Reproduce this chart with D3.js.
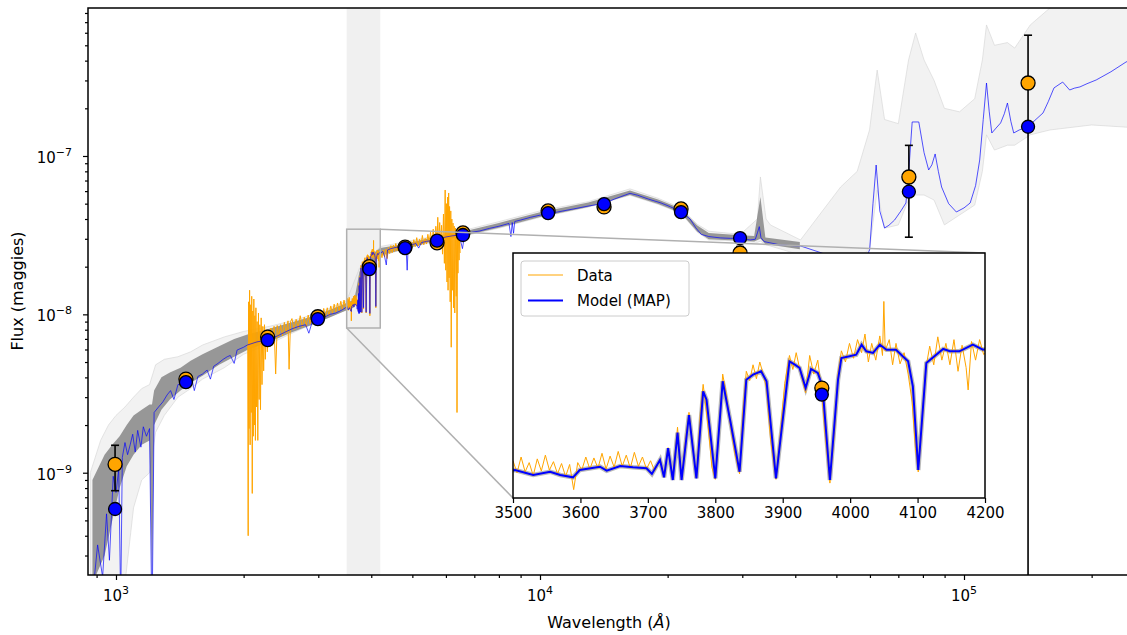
<!DOCTYPE html>
<html>
<head>
<meta charset="utf-8">
<script src="https://cdn.jsdelivr.net/npm/d3@7"></script>
<style>
  body { margin: 0; background: #fff; }
  svg { display: block; font-family: "DejaVu Sans", sans-serif; }
</style>
</head>
<body>
<svg id="chart" width="1127" height="635"></svg>
<script>
// fluxes below are in nanomaggies (1e-9 maggies)
const NMGY = 1e-9;

const xMajor = [1e3, 1e4, 1e5];
const yMajor = [1e-9, 1e-8, 1e-7];
const insetTicks = [3500, 3600, 3700, 3800, 3900, 4000, 4100, 4200];

// photometry: wavelength (A), observed, 1-sigma error, model (MAP)
const photWave  = [995, 1462, 2279, 2993, 3958, 4806, 5718, 6581, 10450, 14160, 21510, 29640, 74130, 141600];
const photObs   = [1.13, 3.9, 7.19, 9.66, 20.0, 26.6, 28.3, 32.7, 45.0, 47.7, 46.3, 24.4, 73.7, 289];
const photErr   = [0.36, 0.12, 0.2, 0.25, 0.5, 0.6, 0.7, 0.8, 1.0, 1.1, 1.1, 2.4, 43, 290];
const photModel = [0.59, 3.73, 6.88, 9.33, 19.3, 26.2, 29.2, 31.7, 43.6, 49.7, 44.2, 30.3, 59.5, 153];

// MAP model spectrum [wavelength, flux]
const mapSpec = [
  [870, 0.12], [905, 0.35], [930, 0.22], [950, 0.55], [965, 0.28], [985, 0.95], [1000, 0.75], [1015, 1.05],
  [1026, 0.15], [1035, 1.25], [1050, 1.55], [1065, 1.3], [1080, 1.5], [1095, 1.75], [1110, 1.35], [1125, 1.85],
  [1145, 1.45], [1160, 1.95], [1180, 1.7], [1200, 1.9], [1216, 0.1], [1230, 2.4], [1260, 2.6], [1290, 2.8],
  [1320, 3.1], [1345, 3.3], [1370, 2.9], [1400, 3.6], [1430, 3.65], [1470, 3.7], [1510, 3.9], [1530, 3.3],
  [1560, 4.05], [1600, 4.2], [1640, 4.45], [1670, 3.9], [1700, 4.7], [1740, 4.9], [1790, 5.2], [1830, 5.4],
  [1860, 5.5], [1900, 4.9], [1930, 5.95], [2000, 6.2], [2040, 6.4], [2150, 6.7], [2284, 6.9], [2400, 7.3],
  [2500, 7.7], [2600, 8.1], [2700, 8.4], [2800, 8.6], [2850, 7.6], [2900, 8.9], [3000, 9.3], [3100, 9.6],
  [3200, 10.0], [3300, 10.2], [3400, 10.6], [3480, 11.0],
  [3503, 11.21], [3530, 10.67], [3555, 11.02], [3570, 10.67], [3589, 10.42], [3599, 11.21], [3629, 11.56],
  [3639, 11.13], [3659, 11.64], [3678, 11.5], [3698, 11.39], [3706, 10.78], [3718, 12.28], [3724, 10.42],
  [3730, 13.54], [3737, 10.13], [3744, 15.21], [3750, 10.13], [3761, 17.11], [3772, 10.31], [3782, 19.65],
  [3787, 18.75], [3800, 10.31], [3811, 20.73], [3822, 16.57], [3836, 11.02], [3846, 20.9], [3856, 21.44],
  [3868, 21.8], [3876, 20.73], [3890, 10.31], [3910, 22.87], [3918, 22.51], [3925, 22.16], [3934, 20.01],
  [3942, 22.05], [3952, 21.62], [3959, 20.19], [3970, 10.13], [3982, 20.87], [3987, 23.23], [3999, 23.41],
  [4009, 23.58], [4017, 24.66], [4024, 23.95], [4034, 23.77], [4044, 24.66], [4054, 24.12], [4068, 24.12],
  [4078, 23.41], [4086, 22.87], [4093, 20.19], [4101, 11.21], [4113, 22.69], [4138, 24.2], [4148, 23.95],
  [4162, 23.95], [4182, 24.66], [4197, 24.12],
  [4210, 24.3], [4260, 25.0], [4300, 23.2], [4340, 20.5], [4370, 25.5], [4450, 26.0], [4550, 26.4],
  [4700, 26.8], [4830, 27.0], [4861, 19.0], [4890, 27.3], [5000, 27.6], [5100, 28.0], [5175, 26.2],
  [5250, 28.4], [5400, 28.9], [5600, 29.3], [5800, 30.0], [6000, 30.8], [6200, 31.3], [6450, 31.7],
  [6563, 26.0], [6650, 32.3], [6900, 33.0], [7200, 33.6], [7600, 34.9], [8000, 36.0], [8450, 37.5],
  [8540, 31.0], [8600, 38.0], [8662, 32.5], [8720, 38.6], [9000, 39.4], [9500, 41.0], [10000, 42.3],
  [11000, 44.3], [12000, 46.3], [13000, 48.3], [14200, 50.3], [15000, 53.5], [15500, 55.3], [16300, 58.1],
  [17000, 56.5], [18000, 53.5], [19300, 50.5], [20300, 47.8], [21500, 44.5], [22600, 40.0], [23300, 35.2],
  [24000, 32.0], [25000, 31.0], [26600, 30.4], [28100, 30.2], [29700, 30.2], [31300, 29.5], [32200, 29.8],
  [32600, 33.0], [32900, 35.8], [33200, 30.5], [33800, 28.8], [36900, 27.4], [41200, 27.0], [46000, 24.5],
  [52000, 21.5], [56000, 21.0], [58500, 22.5], [59900, 25.5], [61000, 50.0], [62060, 87.7], [63300, 45.0],
  [64960, 35.1], [66500, 36.5], [68590, 39.4], [71000, 45.0], [72960, 50.5], [74200, 85.0], [75470, 164],
  [78230, 164], [80500, 105], [82540, 81.6], [84000, 88], [85500, 103], [87000, 80], [88550, 63.7],
  [92000, 50.0], [95930, 44.3], [100000, 47.0], [103400, 50.5], [106500, 65.0], [108900, 94.3], [111000, 170],
  [113000, 289], [114700, 190], [116300, 139.7], [119000, 150], [122000, 161.6], [124500, 185], [126600, 216],
  [129000, 165], [131000, 139.7], [135000, 146], [141200, 152.5], [147000, 168], [153600, 187], [158000, 220],
  [163000, 269], [170900, 293], [177500, 261], [182000, 268], [187700, 273], [195000, 286], [205000, 302],
  [222000, 340], [241000, 392], [262000, 434]
];

// observed spectrum [wavelength, flux]
const dataSpec = [
  [2045, 6.5], [2050, 0.40], [2055, 12.0], [2060, 1.9], [2066, 14.2], [2072, 1.5], [2078, 11.5], [2084, 2.4],
  [2090, 13.0], [2096, 0.74], [2102, 10.5], [2108, 1.7], [2114, 12.5], [2120, 2.0], [2126, 9.8], [2132, 1.6],
  [2138, 11.0], [2145, 2.6], [2152, 9.0], [2160, 1.6], [2168, 10.2], [2176, 2.9], [2184, 8.6], [2192, 2.5],
  [2200, 9.5], [2210, 3.6], [2220, 8.4], [2230, 4.4], [2240, 8.6], [2250, 5.2], [2262, 8.0], [2275, 5.8],
  [2290, 7.9], [2305, 6.4], [2320, 8.2], [2340, 6.9], [2360, 8.4], [2380, 4.2], [2400, 8.5], [2420, 7.2],
  [2445, 8.6], [2470, 7.3], [2495, 8.9], [2520, 7.6], [2545, 9.1], [2560, 4.5], [2580, 9.0], [2600, 9.4],
  [2630, 8.0], [2660, 9.3], [2690, 8.2], [2720, 9.8], [2750, 8.3], [2780, 9.6], [2810, 8.4], [2840, 9.9],
  [2870, 8.7], [2900, 10.1], [2930, 8.9], [2960, 10.2], [3000, 9.1], [3030, 10.6], [3060, 9.4], [3090, 10.9],
  [3120, 9.6], [3150, 11.0], [3180, 9.8], [3210, 11.3], [3240, 10.1], [3270, 11.6], [3300, 10.3], [3330, 11.8],
  [3360, 10.5], [3390, 12.1], [3420, 10.7], [3450, 12.3], [3480, 10.9],
  [3500, 12.2], [3506, 10.9], [3512, 12.6], [3518, 11.0], [3524, 12.0], [3530, 10.6], [3536, 12.4], [3542, 11.1],
  [3548, 12.8], [3554, 11.2], [3560, 12.1], [3566, 10.8], [3572, 11.9], [3578, 10.5], [3584, 11.8], [3590, 9.1],
  [3596, 12.0], [3602, 11.2], [3608, 12.6], [3614, 11.3], [3620, 12.5], [3626, 11.4], [3632, 13.0], [3638, 11.3],
  [3644, 12.7], [3650, 11.5], [3656, 13.2], [3662, 11.6], [3668, 12.8], [3674, 11.4], [3680, 13.1], [3686, 11.6],
  [3692, 12.6], [3698, 11.3], [3704, 12.2], [3710, 11.1], [3718, 12.4], [3724, 10.6], [3730, 13.6], [3737, 10.4],
  [3744, 15.8], [3750, 10.3], [3756, 14.5], [3761, 17.4], [3767, 13.5], [3772, 10.4], [3778, 17.5], [3782, 20.4],
  [3786, 18.0], [3790, 15.5], [3795, 11.5], [3800, 10.2], [3806, 16.0], [3811, 21.5], [3816, 19.5], [3822, 16.2],
  [3829, 13.0], [3836, 10.8], [3841, 17.5], [3846, 21.8], [3851, 20.8], [3856, 22.5], [3861, 21.0], [3866, 22.8],
  [3871, 21.5], [3876, 20.0], [3882, 14.5], [3890, 10.2], [3897, 15.5], [3903, 20.5], [3910, 23.5], [3915, 22.0],
  [3920, 23.8], [3926, 21.8], [3934, 19.5], [3940, 23.5], [3946, 21.5], [3952, 23.0], [3958, 19.5], [3963, 15.0],
  [3970, 9.8], [3977, 15.5], [3982, 21.5], [3987, 24.0], [3993, 22.8], [3999, 24.8], [4005, 23.2], [4011, 25.2],
  [4017, 23.8], [4022, 25.8], [4027, 22.8], [4032, 24.8], [4038, 23.0], [4044, 25.6], [4048, 23.5], [4050, 29.3],
  [4052, 24.0], [4058, 25.2], [4063, 22.5], [4068, 24.8], [4074, 22.6], [4080, 23.8], [4086, 21.5], [4092, 18.5],
  [4097, 13.5], [4101, 11.0], [4106, 15.5], [4112, 22.0], [4118, 24.5], [4124, 22.5], [4130, 25.5], [4136, 23.0],
  [4142, 24.8], [4148, 22.5], [4154, 25.2], [4160, 21.8], [4166, 24.6], [4172, 22.2], [4175, 19.8], [4180, 25.0],
  [4186, 23.0], [4192, 25.2], [4198, 23.6],
  [4210, 24.4], [4240, 22.8], [4270, 25.5], [4300, 23.0], [4330, 25.8], [4360, 22.5], [4390, 26.4], [4420, 24.2],
  [4450, 27.2], [4480, 24.5], [4510, 27.4], [4540, 25.0], [4570, 28.0], [4600, 25.2], [4640, 27.6], [4680, 25.0],
  [4720, 28.5], [4760, 25.6], [4800, 28.2], [4840, 25.8], [4880, 29.5], [4920, 26.0], [4960, 28.8], [5000, 26.5],
  [5040, 29.6], [5080, 26.8], [5120, 30.5], [5160, 27.0], [5200, 29.8], [5240, 27.4], [5280, 31.5], [5320, 27.5],
  [5360, 30.2], [5400, 27.8], [5440, 32.0], [5480, 28.5], [5520, 33.0], [5560, 28.0], [5600, 34.5], [5640, 27.5],
  [5680, 36.0], [5720, 29.0], [5740, 41.0], [5770, 26.0], [5800, 38.0], [5830, 27.0], [5860, 36.5], [5890, 24.0],
  [5920, 43.0], [5950, 21.0], [5975, 61.0], [5995, 19.0], [6015, 50.0], [6035, 16.0], [6055, 55.0], [6070, 14.2],
  [6090, 58.4], [6105, 17.0], [6120, 48.0], [6140, 12.0], [6160, 45.0], [6175, 6.2], [6195, 40.0], [6215, 14.2],
  [6235, 37.7], [6255, 11.0], [6275, 36.0], [6295, 10.2], [6320, 35.1], [6345, 13.0], [6365, 33.0], [6372, 2.4],
  [6385, 34.0], [6405, 18.2], [6425, 33.5], [6445, 22.0], [6465, 32.5], [6480, 24.4]
];

// posterior spread [wavelength, low, high]: dense core and full range of samples
const coreBand = [
  [880, 0.2, 0.9], [940, 0.3, 1.3], [980, 0.5, 1.5], [1020, 0.8, 1.7], [1060, 1.1, 2.0], [1100, 1.3, 2.3],
  [1150, 1.5, 2.5], [1200, 1.6, 2.7], [1216, 0.2, 2.7], [1230, 2.0, 3.3], [1280, 2.5, 4.0], [1340, 2.9, 4.3],
  [1420, 3.3, 4.6], [1500, 3.7, 5.1], [1600, 4.1, 5.6], [1750, 4.8, 6.3], [1900, 5.4, 7.0], [2050, 6.0, 7.5],
  [2300, 6.7, 8.1], [2600, 7.7, 8.9], [2900, 8.6, 9.7], [3200, 9.6, 10.7], [3500, 10.6, 11.8], [3650, 11.1, 12.4],
  [3750, 15.0, 18.5], [3900, 18.5, 22.5], [4200, 23.6, 26.2], [4800, 25.8, 27.8], [5500, 28.6, 30.4],
  [6500, 31.0, 33.0], [8000, 35.2, 37.8], [10000, 41.2, 44.2], [13000, 47.6, 50.8], [16300, 56.8, 60.5],
  [19000, 49.8, 53.2], [21500, 43.6, 46.4], [23500, 33.2, 36.4], [25000, 29.8, 32.6], [29700, 29.2, 31.6],
  [32000, 28.8, 31.2], [33100, 30, 55], [34000, 27.8, 30.6], [41000, 25.8, 28.6]
];
const wideBand = [
  [870, 0.1, 1.0], [920, 0.1, 1.6], [960, 0.1, 2.0], [1000, 0.1, 2.3], [1050, 0.2, 2.6], [1100, 0.6, 3.0],
  [1150, 0.9, 3.4], [1200, 1.0, 3.6], [1240, 1.8, 4.8], [1300, 2.3, 5.2], [1400, 3.0, 5.4], [1500, 3.4, 5.8],
  [1600, 3.9, 6.4], [1800, 4.6, 7.2], [2000, 5.6, 7.8], [2300, 6.5, 8.4], [2600, 7.6, 9.1], [3000, 9.0, 10.2],
  [3500, 10.7, 12.2], [3750, 15, 19.5], [4200, 23.3, 26.8], [5000, 26.8, 29.3], [6500, 31, 33.5],
  [8000, 35, 38.5], [10000, 41, 45], [13000, 47.5, 51.5], [16300, 56.5, 62], [19000, 49.5, 54],
  [21500, 43.5, 47], [23500, 33, 37], [25000, 29.5, 33.5], [29690, 29, 32], [32560, 28.5, 40], [33100, 29, 73.7],
  [34130, 27.5, 40], [34950, 27, 36.7], [41150, 23.7, 29.5], [51170, 22, 63.7], [56000, 23, 80],
  [59870, 25.5, 146], [62400, 61, 349], [64960, 35, 170], [70000, 36.7, 160], [74000, 52.7, 404],
  [76900, 56.7, 598], [80500, 56.7, 404], [85000, 52.7, 300], [89900, 36.7, 200], [97600, 42.4, 190],
  [106000, 49, 230], [110500, 80, 404], [113000, 136, 672], [118000, 109, 500], [126600, 117, 520],
  [131700, 117, 480], [143300, 136, 672], [159500, 146, 861], [200000, 157, 950], [262000, 150, 1100]
];

const svg = d3.select('#chart');
const M = { left: 88, top: 8, right: 1135, bottom: 575 };
const x = d3.scaleLog().domain([859, 253100]).range([M.left, M.right]);
const y = d3.scaleLog().domain([2.26e-10, 8.6e-7]).range([M.bottom, M.top]);

const I = { left: 513, top: 253, right: 985, bottom: 498 };
const ix = d3.scaleLinear().domain([3500, 4200]).range([I.left, I.right]);
const iy = d3.scaleLinear().domain([8.2e-9, 3.45e-8]).range([I.bottom, I.top]);

const defs = svg.append('defs');
defs.append('clipPath').attr('id', 'clip-main').append('rect')
  .attr('x', M.left).attr('y', M.top).attr('width', M.right - M.left).attr('height', M.bottom - M.top);
defs.append('clipPath').attr('id', 'clip-inset').append('rect')
  .attr('x', I.left).attr('y', I.top).attr('width', I.right - I.left).attr('height', I.bottom - I.top);

function drawPhot(g, sx, sy) {
  const pts = photWave.map((w, i) => ({ w, o: photObs[i] * NMGY, e: photErr[i] * NMGY, m: photModel[i] * NMGY }));
  const low = d => Math.max(d.o - d.e, 1e-12);
  g.selectAll('line.eb').data(pts).enter().append('line')
    .attr('x1', d => sx(d.w)).attr('x2', d => sx(d.w))
    .attr('y1', d => sy(d.o + d.e)).attr('y2', d => sy(low(d)))
    .attr('stroke', '#000').attr('stroke-width', 1.6);
  [d => d.o + d.e, low].forEach(f => {
    g.selectAll(null).data(pts).enter().append('line')
      .attr('x1', d => sx(d.w) - 4).attr('x2', d => sx(d.w) + 4)
      .attr('y1', d => sy(f(d))).attr('y2', d => sy(f(d)))
      .attr('stroke', '#000').attr('stroke-width', 1.6);
  });
  g.selectAll(null).data(pts).enter().append('circle')
    .attr('cx', d => sx(d.w)).attr('cy', d => sy(d.o)).attr('r', 7)
    .attr('fill', 'orange').attr('stroke', '#000').attr('stroke-width', 1.3);
  g.selectAll(null).data(pts).enter().append('circle')
    .attr('cx', d => sx(d.w)).attr('cy', d => sy(d.m)).attr('r', 6.5)
    .attr('fill', 'blue').attr('stroke', '#000').attr('stroke-width', 1.3);
}

// ---- main axes ----
const main = svg.append('g').attr('clip-path', 'url(#clip-main)');
main.append('rect')
  .attr('x', x(3500)).attr('width', x(4200) - x(3500))
  .attr('y', M.top).attr('height', M.bottom - M.top)
  .attr('fill', '#f0f0f0');

const band = (sx, sy) => d3.area().x(d => sx(d[0])).y0(d => sy(d[1] * NMGY)).y1(d => sy(d[2] * NMGY));
const spec = (sx, sy) => d3.line().x(d => sx(d[0])).y(d => sy(d[1] * NMGY));

main.append('path').datum(wideBand).attr('d', band(x, y))
  .attr('fill', '#e2e2e2').attr('fill-opacity', 0.45).attr('stroke', '#d4d4d4').attr('stroke-width', 0.6);
main.append('path').datum(coreBand).attr('d', band(x, y))
  .attr('fill', '#7f7f7f').attr('fill-opacity', 0.8);
main.append('path').datum(dataSpec).attr('d', spec(x, y))
  .attr('fill', 'none').attr('stroke', 'orange').attr('stroke-width', 1);
main.append('path').datum(mapSpec).attr('d', spec(x, y))
  .attr('fill', 'none').attr('stroke', 'blue').attr('stroke-width', 0.8).attr('stroke-opacity', 0.85);
drawPhot(main, x, y);

// ticks
const xMinor = [], yMinor = [];
[100, 1000, 10000, 100000].forEach(b => d3.range(2, 10).forEach(k => {
  const v = b * k;
  if (v > x.domain()[0] && v < x.domain()[1]) xMinor.push(v);
}));
[1e-10, 1e-9, 1e-8, 1e-7].forEach(b => d3.range(2, 10).forEach(k => {
  const v = b * k;
  if (v > y.domain()[0] && v < y.domain()[1]) yMinor.push(v);
}));

function tickGroup(axis, transform) {
  const g = svg.append('g').attr('transform', transform).call(axis);
  g.select('.domain').remove();
  g.selectAll('line').attr('stroke-width', 1.2);
  return g;
}
tickGroup(d3.axisBottom(x).tickValues(xMinor).tickSize(3).tickFormat(''), `translate(0,${M.bottom})`);
tickGroup(d3.axisBottom(x).tickValues(xMajor).tickSize(5).tickFormat(''), `translate(0,${M.bottom})`);
tickGroup(d3.axisLeft(y).tickValues(yMinor).tickSize(3).tickFormat(''), `translate(${M.left},0)`);
tickGroup(d3.axisLeft(y).tickValues(yMajor).tickSize(5).tickFormat(''), `translate(${M.left},0)`);

function powLabel(t, v) {
  const e = Math.round(Math.log10(v));
  t.append('tspan').text('10');
  t.append('tspan').attr('dy', -7).attr('font-size', 11).text(String(e).replace('-', '\u2212'));
}
xMajor.forEach(v => {
  const t = svg.append('text').attr('x', x(v)).attr('y', 601)
    .attr('text-anchor', 'middle').attr('font-size', 15);
  powLabel(t, v);
});
yMajor.forEach(v => {
  const t = svg.append('text').attr('x', 72).attr('y', y(v) + 7)
    .attr('text-anchor', 'end').attr('font-size', 15);
  powLabel(t, v);
});

svg.append('rect')
  .attr('x', M.left).attr('y', M.top).attr('width', M.right - M.left).attr('height', M.bottom - M.top)
  .attr('fill', 'none').attr('stroke', '#000').attr('stroke-width', 1.5);

const xl = svg.append('text').attr('x', 609).attr('y', 628).attr('text-anchor', 'middle').attr('font-size', 16);
xl.append('tspan').text('Wavelength (');
xl.append('tspan').attr('font-style', 'italic').text('\u00C5');
xl.append('tspan').text(')');
svg.append('text').attr('transform', 'translate(23,291) rotate(-90)')
  .attr('text-anchor', 'middle').attr('font-size', 16).text('Flux (maggies)');

// ---- zoom indicator ----
const rx0 = x(3500), rx1 = x(4200), ry0 = y(3.45e-8), ry1 = y(8.2e-9);
svg.append('rect').attr('x', rx0).attr('y', ry0).attr('width', rx1 - rx0).attr('height', ry1 - ry0)
  .attr('fill', 'none').attr('stroke', '#b0b0b0').attr('stroke-width', 1.5);
svg.append('line').attr('x1', rx1).attr('y1', ry0).attr('x2', I.right).attr('y2', I.top)
  .attr('stroke', '#b0b0b0').attr('stroke-width', 1.5);
svg.append('line').attr('x1', rx0).attr('y1', ry1).attr('x2', I.left).attr('y2', I.bottom)
  .attr('stroke', '#b0b0b0').attr('stroke-width', 1.5);

// ---- inset ----
svg.append('rect').attr('x', I.left).attr('y', I.top)
  .attr('width', I.right - I.left).attr('height', I.bottom - I.top).attr('fill', '#fff');
const ins = svg.append('g').attr('clip-path', 'url(#clip-inset)');
ins.append('path').datum(mapSpec).attr('d', spec(ix, iy))
  .attr('fill', 'none').attr('stroke', '#808080').attr('stroke-opacity', 0.55).attr('stroke-width', 4.5);
ins.append('path').datum(dataSpec).attr('d', spec(ix, iy))
  .attr('fill', 'none').attr('stroke', 'orange').attr('stroke-width', 1);
ins.append('path').datum(mapSpec).attr('d', spec(ix, iy))
  .attr('fill', 'none').attr('stroke', 'blue').attr('stroke-width', 2);
drawPhot(ins, ix, iy);

const iax = tickGroup(d3.axisBottom(ix).tickValues(insetTicks).tickSize(5).tickPadding(4).tickFormat(d3.format('d')),
  `translate(0,${I.bottom})`);
iax.selectAll('text').attr('font-size', 15).attr('font-family', '"DejaVu Sans", sans-serif').attr('fill', '#000');
svg.append('rect').attr('x', I.left).attr('y', I.top)
  .attr('width', I.right - I.left).attr('height', I.bottom - I.top)
  .attr('fill', 'none').attr('stroke', '#000').attr('stroke-width', 1.5);

// legend
const lg = svg.append('g');
lg.append('rect').attr('x', 521).attr('y', 261).attr('width', 168).attr('height', 55).attr('rx', 3)
  .attr('fill', '#fff').attr('fill-opacity', 0.8).attr('stroke', '#cccccc');
const legendItems = [['Data', 'orange', 1, 275], ['Model (MAP)', 'blue', 2, 300.5]];
legendItems.forEach(([label, color, w, ly]) => {
  lg.append('line').attr('x1', 528).attr('x2', 563).attr('y1', ly).attr('y2', ly)
    .attr('stroke', color).attr('stroke-width', w);
  lg.append('text').attr('x', 577).attr('y', ly + 5.5).attr('font-size', 15).text(label);
});
</script>
</body>
</html>
